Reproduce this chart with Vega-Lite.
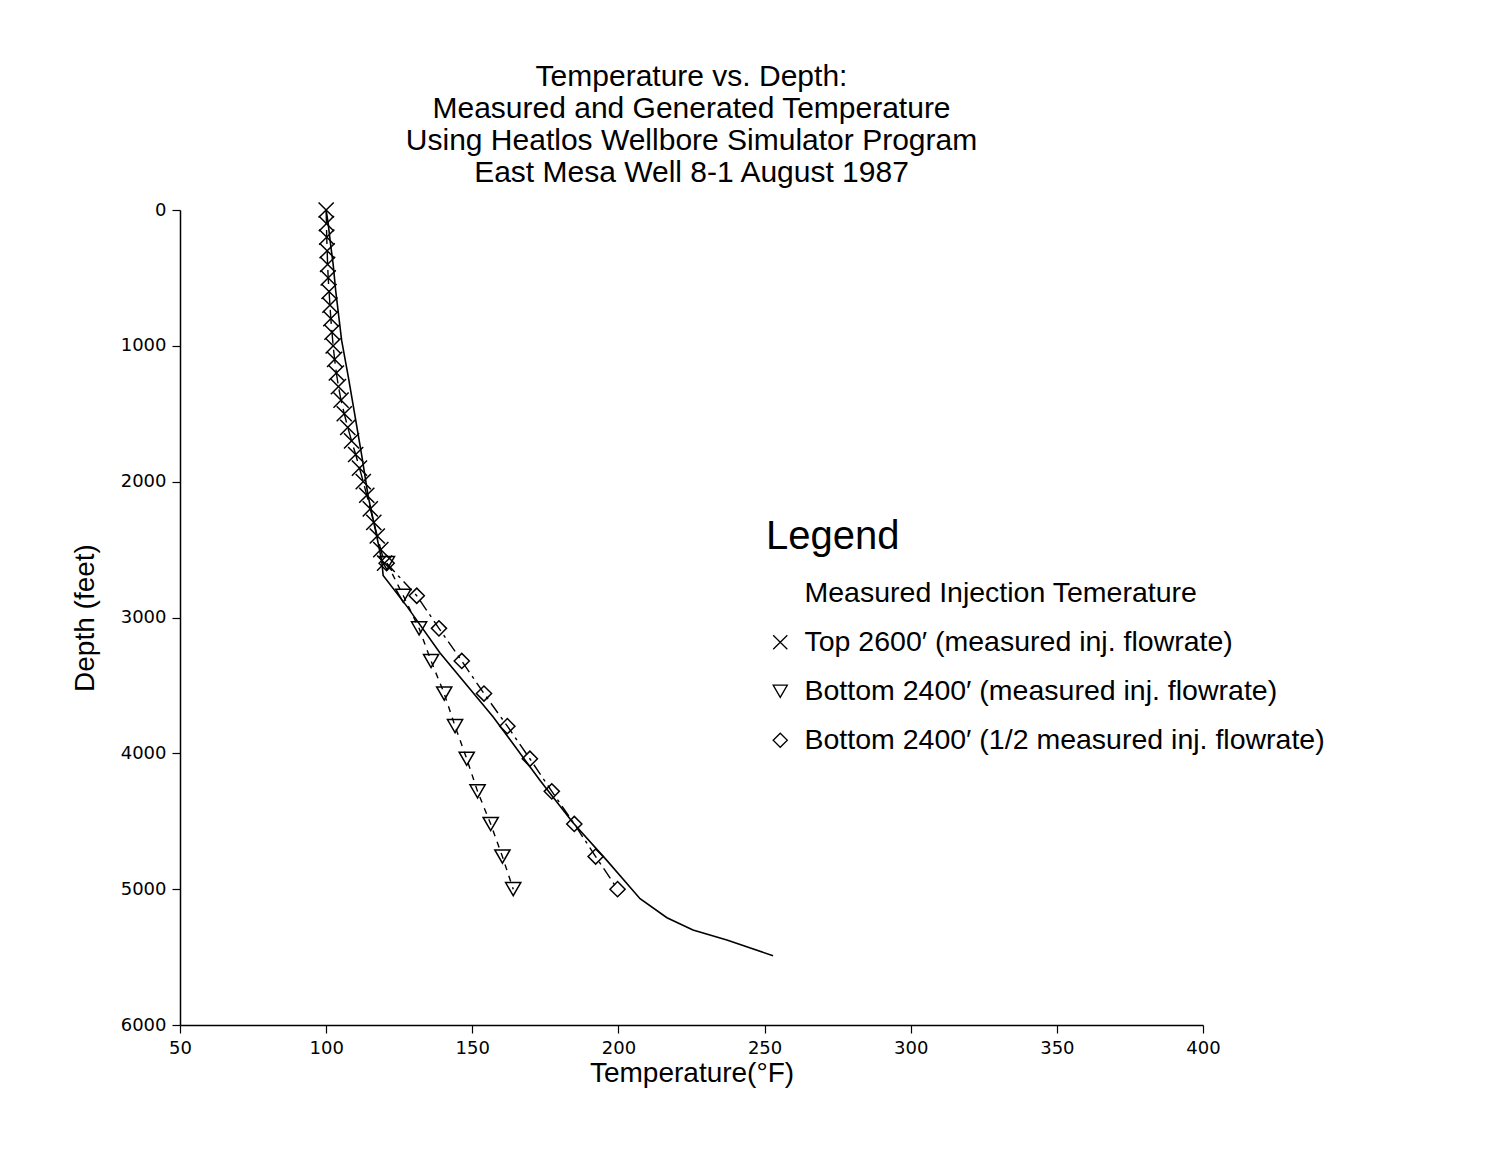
{
  "$schema": "https://vega.github.io/schema/vega-lite/v6.json",
  "autosize": {"type": "none"},
  "width": 1023,
  "height": 815,
  "padding": {"left": 180, "top": 210, "right": 288, "bottom": 130},
  "background": "white",
  "config": {
    "view": {"stroke": null},
    "font": "Liberation Sans",
    "axis": {"domainColor": "black", "tickColor": "black", "labelColor": "black", "titleColor": "black", "grid": false, "domainWidth": 1.5, "tickWidth": 1.2, "tickSize": 8, "labelFlush": false, "labelFont": "DejaVu Sans", "titleFont": "Liberation Sans"}
  },
  "title": {
    "text": ["Temperature vs. Depth:", "Measured and Generated Temperature", "Using Heatlos Wellbore Simulator Program", "East Mesa Well 8-1 August 1987"],
    "fontSize": 30,
    "fontWeight": "normal",
    "lineHeight": 32,
    "color": "black",
    "anchor": "middle",
    "offset": 11,
    "font": "Liberation Sans"
  },
  "data": {
    "values": [
      {"series": "Measured Injection Temerature", "temp": 100.0, "depth": 0},
      {"series": "Measured Injection Temerature", "temp": 100.7, "depth": 100},
      {"series": "Measured Injection Temerature", "temp": 101.5, "depth": 250},
      {"series": "Measured Injection Temerature", "temp": 102.4, "depth": 400},
      {"series": "Measured Injection Temerature", "temp": 103.3, "depth": 600},
      {"series": "Measured Injection Temerature", "temp": 105.3, "depth": 960},
      {"series": "Measured Injection Temerature", "temp": 107.6, "depth": 1230},
      {"series": "Measured Injection Temerature", "temp": 109.9, "depth": 1520},
      {"series": "Measured Injection Temerature", "temp": 112.2, "depth": 1810},
      {"series": "Measured Injection Temerature", "temp": 114.4, "depth": 2110},
      {"series": "Measured Injection Temerature", "temp": 117.3, "depth": 2400},
      {"series": "Measured Injection Temerature", "temp": 119.0, "depth": 2580},
      {"series": "Measured Injection Temerature", "temp": 119.5, "depth": 2690},
      {"series": "Measured Injection Temerature", "temp": 127.7, "depth": 2920},
      {"series": "Measured Injection Temerature", "temp": 138.9, "depth": 3260},
      {"series": "Measured Injection Temerature", "temp": 157.1, "depth": 3730},
      {"series": "Measured Injection Temerature", "temp": 173.2, "depth": 4200},
      {"series": "Measured Injection Temerature", "temp": 184.4, "depth": 4510},
      {"series": "Measured Injection Temerature", "temp": 196.1, "depth": 4790},
      {"series": "Measured Injection Temerature", "temp": 207.4, "depth": 5070},
      {"series": "Measured Injection Temerature", "temp": 216.6, "depth": 5210},
      {"series": "Measured Injection Temerature", "temp": 225.5, "depth": 5300},
      {"series": "Measured Injection Temerature", "temp": 237.1, "depth": 5375},
      {"series": "Measured Injection Temerature", "temp": 252.9, "depth": 5490},

      {"series": "Top 2600′ (measured inj. flowrate)", "temp": 100.0, "depth": 0},
      {"series": "Top 2600′ (measured inj. flowrate)", "temp": 100.1, "depth": 100},
      {"series": "Top 2600′ (measured inj. flowrate)", "temp": 100.2, "depth": 200},
      {"series": "Top 2600′ (measured inj. flowrate)", "temp": 100.35, "depth": 300},
      {"series": "Top 2600′ (measured inj. flowrate)", "temp": 100.5, "depth": 400},
      {"series": "Top 2600′ (measured inj. flowrate)", "temp": 100.7, "depth": 500},
      {"series": "Top 2600′ (measured inj. flowrate)", "temp": 101.0, "depth": 600},
      {"series": "Top 2600′ (measured inj. flowrate)", "temp": 101.3, "depth": 700},
      {"series": "Top 2600′ (measured inj. flowrate)", "temp": 101.6, "depth": 800},
      {"series": "Top 2600′ (measured inj. flowrate)", "temp": 102.0, "depth": 900},
      {"series": "Top 2600′ (measured inj. flowrate)", "temp": 102.4, "depth": 1000},
      {"series": "Top 2600′ (measured inj. flowrate)", "temp": 102.9, "depth": 1100},
      {"series": "Top 2600′ (measured inj. flowrate)", "temp": 103.5, "depth": 1200},
      {"series": "Top 2600′ (measured inj. flowrate)", "temp": 104.2, "depth": 1300},
      {"series": "Top 2600′ (measured inj. flowrate)", "temp": 105.1, "depth": 1400},
      {"series": "Top 2600′ (measured inj. flowrate)", "temp": 106.2, "depth": 1500},
      {"series": "Top 2600′ (measured inj. flowrate)", "temp": 107.4, "depth": 1600},
      {"series": "Top 2600′ (measured inj. flowrate)", "temp": 108.7, "depth": 1700},
      {"series": "Top 2600′ (measured inj. flowrate)", "temp": 110.1, "depth": 1800},
      {"series": "Top 2600′ (measured inj. flowrate)", "temp": 111.4, "depth": 1900},
      {"series": "Top 2600′ (measured inj. flowrate)", "temp": 112.7, "depth": 2000},
      {"series": "Top 2600′ (measured inj. flowrate)", "temp": 113.9, "depth": 2100},
      {"series": "Top 2600′ (measured inj. flowrate)", "temp": 115.1, "depth": 2200},
      {"series": "Top 2600′ (measured inj. flowrate)", "temp": 116.3, "depth": 2300},
      {"series": "Top 2600′ (measured inj. flowrate)", "temp": 117.5, "depth": 2400},
      {"series": "Top 2600′ (measured inj. flowrate)", "temp": 118.7, "depth": 2500},
      {"series": "Top 2600′ (measured inj. flowrate)", "temp": 120.0, "depth": 2600},

      {"series": "Bottom 2400′ (measured inj. flowrate)", "temp": 120.8, "depth": 2600},
      {"series": "Bottom 2400′ (measured inj. flowrate)", "temp": 126.4, "depth": 2840},
      {"series": "Bottom 2400′ (measured inj. flowrate)", "temp": 131.8, "depth": 3080},
      {"series": "Bottom 2400′ (measured inj. flowrate)", "temp": 135.9, "depth": 3320},
      {"series": "Bottom 2400′ (measured inj. flowrate)", "temp": 140.4, "depth": 3560},
      {"series": "Bottom 2400′ (measured inj. flowrate)", "temp": 144.1, "depth": 3800},
      {"series": "Bottom 2400′ (measured inj. flowrate)", "temp": 148.1, "depth": 4040},
      {"series": "Bottom 2400′ (measured inj. flowrate)", "temp": 151.8, "depth": 4280},
      {"series": "Bottom 2400′ (measured inj. flowrate)", "temp": 156.3, "depth": 4520},
      {"series": "Bottom 2400′ (measured inj. flowrate)", "temp": 160.3, "depth": 4760},
      {"series": "Bottom 2400′ (measured inj. flowrate)", "temp": 164.0, "depth": 5000},

      {"series": "Bottom 2400′ (1/2 measured inj. flowrate)", "temp": 120.7, "depth": 2600},
      {"series": "Bottom 2400′ (1/2 measured inj. flowrate)", "temp": 131.0, "depth": 2840},
      {"series": "Bottom 2400′ (1/2 measured inj. flowrate)", "temp": 138.6, "depth": 3080},
      {"series": "Bottom 2400′ (1/2 measured inj. flowrate)", "temp": 146.4, "depth": 3320},
      {"series": "Bottom 2400′ (1/2 measured inj. flowrate)", "temp": 154.0, "depth": 3560},
      {"series": "Bottom 2400′ (1/2 measured inj. flowrate)", "temp": 162.0, "depth": 3800},
      {"series": "Bottom 2400′ (1/2 measured inj. flowrate)", "temp": 169.7, "depth": 4040},
      {"series": "Bottom 2400′ (1/2 measured inj. flowrate)", "temp": 177.2, "depth": 4280},
      {"series": "Bottom 2400′ (1/2 measured inj. flowrate)", "temp": 184.9, "depth": 4520},
      {"series": "Bottom 2400′ (1/2 measured inj. flowrate)", "temp": 192.2, "depth": 4760},
      {"series": "Bottom 2400′ (1/2 measured inj. flowrate)", "temp": 199.7, "depth": 5000}
    ]
  },
  "encoding": {
    "x": {
      "field": "temp", "type": "quantitative",
      "scale": {"domain": [50, 400], "nice": false, "zero": false},
      "axis": {"title": "Temperature(°F)", "values": [50, 100, 150, 200, 250, 300, 350, 400], "format": "d", "labelFontSize": 18, "titleFontSize": 28, "titleFontWeight": "normal", "titleY": 34, "titleBaseline": "top", "labelPadding": 6}
    },
    "y": {
      "field": "depth", "type": "quantitative",
      "scale": {"domain": [0, 6000], "reverse": true, "nice": false, "zero": false},
      "axis": {"title": "Depth (feet)", "values": [0, 1000, 2000, 3000, 4000, 5000, 6000], "format": "d", "labelFontSize": 18, "titleFontSize": 28, "titleFontWeight": "normal", "titlePadding": 21, "labelPadding": 6}
    },
    "order": {"field": "depth", "type": "quantitative"}
  },
  "layer": [
    {
      "transform": [{"filter": "datum.series === 'Measured Injection Temerature'"}],
      "mark": {"type": "line", "color": "black", "strokeWidth": 1.6}
    },
    {
      "transform": [{"filter": "datum.series === 'Top 2600′ (measured inj. flowrate)'"}],
      "mark": {"type": "line", "color": "black", "strokeWidth": 1.4, "strokeDash": [14, 6]}
    },
    {
      "transform": [{"filter": "datum.series === 'Bottom 2400′ (measured inj. flowrate)'"}],
      "mark": {"type": "line", "color": "black", "strokeWidth": 1.4, "strokeDash": [6, 6]}
    },
    {
      "transform": [{"filter": "datum.series === 'Bottom 2400′ (1/2 measured inj. flowrate)'"}],
      "mark": {"type": "line", "color": "black", "strokeWidth": 1.4, "strokeDash": [12, 5, 3, 5]}
    },
    {
      "transform": [{"filter": "datum.series !== 'Measured Injection Temerature'"}],
      "mark": {"type": "point", "filled": false, "color": "black", "strokeWidth": 1.5, "size": 230, "opacity": 1},
      "encoding": {
        "shape": {
          "field": "series", "type": "nominal",
          "scale": {
            "domain": ["Measured Injection Temerature", "Top 2600′ (measured inj. flowrate)", "Bottom 2400′ (measured inj. flowrate)", "Bottom 2400′ (1/2 measured inj. flowrate)"],
            "range": ["M0,0", "M-1,-1L1,1M-1,1L1,-1", "triangle-down", "diamond"]
          },
          "legend": {
            "title": "Legend",
            "orient": "none",
            "legendX": 586,
            "legendY": 307,
            "padding": 0,
            "titleFontSize": 40,
            "titleFontWeight": "normal",
            "titleColor": "black",
            "titlePadding": 22,
            "titleFont": "Liberation Sans",
            "labelFontSize": 28.5,
            "labelFont": "Liberation Sans",
            "labelColor": "black",
            "labelLimit": 700,
            "labelOffset": 10,
            "rowPadding": 20,
            "symbolSize": 200,
            "symbolStrokeColor": "black",
            "symbolFillColor": "transparent",
            "symbolStrokeWidth": 1.3,
            "symbolOpacity": 1
          }
        }
      }
    }
  ]
}
